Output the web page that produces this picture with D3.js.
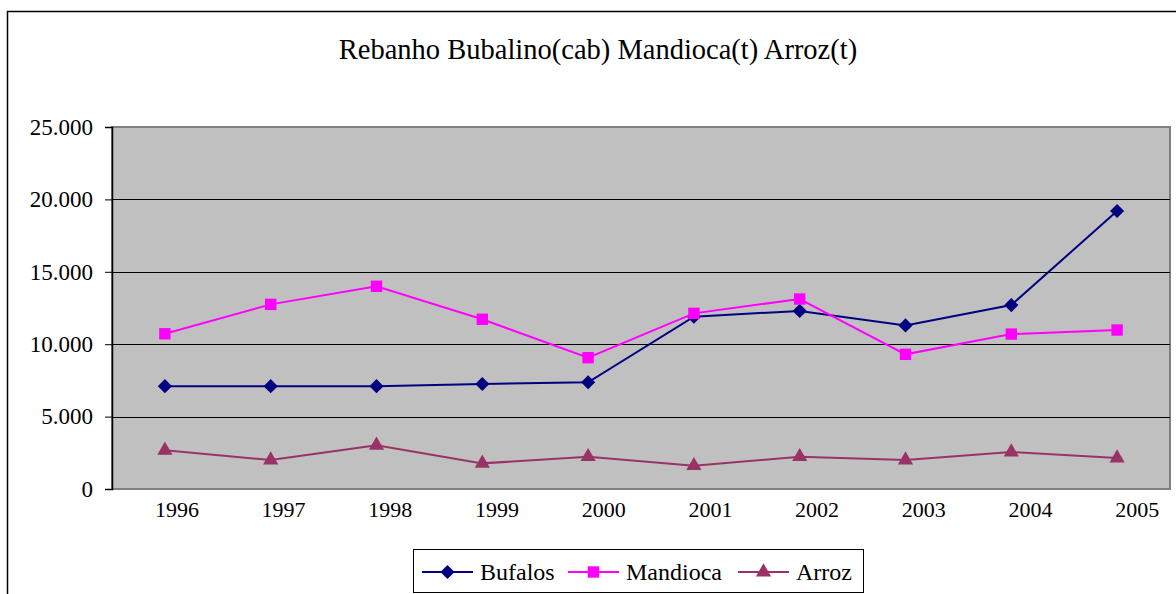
<!DOCTYPE html>
<html>
<head>
<meta charset="utf-8">
<script src="https://cdn.jsdelivr.net/npm/d3@7"></script>
<style>
  body { margin: 0; background: #fff; }
  svg text { font-family: "Liberation Serif", "Times New Roman", serif; fill: #000; }
</style>
</head>
<body>
<div id="chart"></div>
<script>
// Data
const years = ['1996', '1997', '1998', '1999', '2000', '2001', '2002', '2003', '2004', '2005'];
const bufalos = [7100, 7100, 7100, 7250, 7370, 11900, 12300, 11300, 12700, 19200];
const mandioca = [10720, 12750, 14000, 11720, 9070, 12130, 13120, 9300, 10700, 10980];
const arroz = [2670, 2000, 3020, 1770, 2230, 1610, 2230, 2000, 2550, 2140];
const yTicks = [0, 5000, 10000, 15000, 20000, 25000];

// diamond = square turned 45 degrees
const series = [
    {name: 'Bufalos', values: bufalos, color: '#000080', symbol: d3.symbolSquare, size: 100, rotate: 45},
    {name: 'Mandioca', values: mandioca, color: '#FF00FF', symbol: d3.symbolSquare, size: 130, rotate: 0},
    {name: 'Arroz', values: arroz, color: '#993366', symbol: d3.symbolTriangle, size: 100, rotate: 0}
];

const W = 1176, H = 594;
const plot = {left: 112, top: 127, right: 1170, bottom: 489};

const svg = d3.select('#chart').append('svg')
    .attr('width', W)
    .attr('height', H);

// outer chart border
svg.append('rect')
    .attr('x', 7.5).attr('y', 11.5)
    .attr('width', W + 10).attr('height', H + 10)
    .attr('fill', '#fff')
    .attr('stroke', '#000')
    .attr('stroke-width', 1.5);

const x = d3.scaleBand()
    .domain(years)
    .range([plot.left, plot.right]);

const y = d3.scaleLinear()
    .domain([0, 25000])
    .range([plot.bottom, plot.top]);

// plot area background
svg.append('rect')
    .attr('x', plot.left).attr('y', plot.top)
    .attr('width', plot.right - plot.left)
    .attr('height', plot.bottom - plot.top)
    .attr('fill', '#C0C0C0')
    .attr('stroke', '#808080')
    .attr('stroke-width', 2);

// gridlines
svg.append('g')
    .selectAll('line')
    .data(yTicks.filter(d => d > 0 && d < 25000))
    .enter()
    .append('line')
    .attr('x1', plot.left).attr('x2', plot.right)
    .attr('y1', d => Math.round(y(d)) + 0.5)
    .attr('y2', d => Math.round(y(d)) + 0.5)
    .attr('stroke', '#000')
    .attr('stroke-width', 1);

// y axis
const fmt = d => d === 0 ? '0' : d3.format(',')(d).replace(/,/g, '.');
const yAxis = svg.append('g')
    .attr('transform', `translate(${plot.left},0)`)
    .call(d3.axisLeft(y).tickValues(yTicks).tickFormat(fmt).tickSize(7).tickPadding(12));
yAxis.select('.domain').attr('stroke', '#000').attr('stroke-width', 1.5);
yAxis.selectAll('.tick line').attr('stroke', '#000');
yAxis.selectAll('.tick text')
    .style('font-size', '23px')
    .attr('font-family', null);

// x axis labels
const xAxis = svg.append('g')
    .attr('transform', `translate(0,${plot.bottom})`)
    .call(d3.axisBottom(x).tickSize(0).tickPadding(12));
xAxis.select('.domain').remove();
xAxis.selectAll('.tick text')
    .style('font-size', '22px')
    .attr('font-family', null)
    .attr('dx', (d, i) => 12 + i * 0.9);

// lines and markers
const cx = d => x(d) + x.bandwidth() / 2;
const line = d3.line()
    .x((d, i) => cx(years[i]))
    .y(d => y(d));

series.forEach(s => {
    svg.append('path')
        .datum(s.values)
        .attr('fill', 'none')
        .attr('stroke', s.color)
        .attr('stroke-width', 2)
        .attr('d', line);

    svg.append('g')
        .selectAll('path')
        .data(s.values)
        .enter()
        .append('path')
        .attr('d', d3.symbol().type(s.symbol).size(s.size))
        .attr('transform', (d, i) => `translate(${cx(years[i])},${y(d)}) rotate(${s.rotate})`)
        .attr('fill', s.color);
});

// title
svg.append('text')
    .attr('x', 598)
    .attr('y', 59)
    .attr('text-anchor', 'middle')
    .style('font-size', '28.5px')
    .text('Rebanho Bubalino(cab) Mandioca(t) Arroz(t)');

// legend
const legend = svg.append('g').attr('class', 'legend');
legend.append('rect')
    .attr('x', 413.5).attr('y', 549.5)
    .attr('width', 450).attr('height', 43)
    .attr('fill', '#fff')
    .attr('stroke', '#000')
    .attr('stroke-width', 1);

const legendX = [422, 568, 738];
series.forEach((s, i) => {
    const g = legend.append('g')
        .attr('transform', `translate(${legendX[i]},572)`);
    g.append('line')
        .attr('x1', 0).attr('x2', 51)
        .attr('stroke', s.color)
        .attr('stroke-width', 2);
    g.append('path')
        .attr('d', d3.symbol().type(s.symbol).size(s.size))
        .attr('transform', `translate(25.5,0) rotate(${s.rotate})`)
        .attr('fill', s.color);
    g.append('text')
        .attr('x', 58)
        .attr('y', 8)
        .style('font-size', '24px')
        .text(s.name);
});
</script>
</body>
</html>
